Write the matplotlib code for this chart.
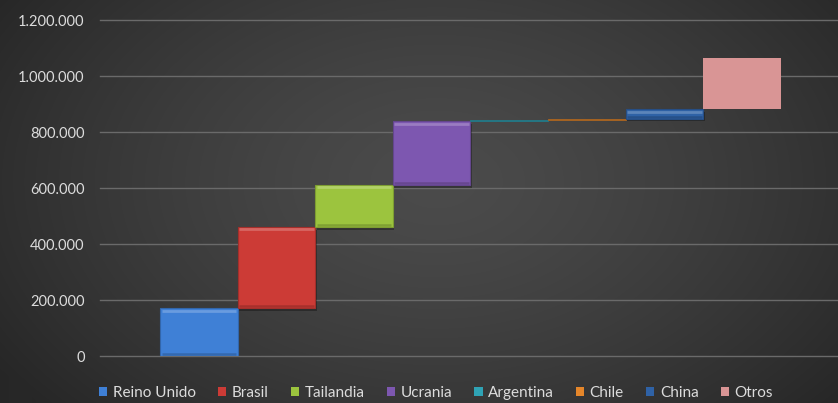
import numpy as np
import matplotlib
matplotlib.use("Agg")
import matplotlib.pyplot as plt
from matplotlib.patches import Patch
from matplotlib.ticker import FuncFormatter
import matplotlib.transforms as mtransforms
from matplotlib.colors import to_rgb

# ---------------- data ----------------
countries = ["Reino Unido", "Brasil", "Tailandia", "Ucrania", "Argentina", "Chile", "China", "Otros"]
values = [170000, 290000, 150000, 228000, 5000, 5000, 33000, 182000]
colors = ["#3f80d6", "#cc3b36", "#9cc43e", "#7d57b0", "#2fa3b5", "#e5862a", "#2f62a6", "#d99595"]
bevel = [True, True, True, True, False, False, True, False]
yticks = [0, 200000, 400000, 600000, 800000, 1000000, 1200000]

plt.rcParams['font.family'] = ['Lato', 'DejaVu Sans']

W, H = 838, 403
fig = plt.figure(figsize=(W / 100, H / 100), dpi=100)

# background radial gradient
bg = fig.add_axes([0, 0, 1, 1])
bg.axis('off')
yy, xx = np.mgrid[0:H, 0:W]
cx, cy = 0.52 * W, 0.45 * H
r = np.sqrt(((xx - cx) / (0.62 * W)) ** 2 + ((yy - cy) / (0.85 * H)) ** 2)
r = np.clip(r, 0, 1)
c0, c1 = 0x4b / 255, 0x27 / 255
g = c0 + (c1 - c0) * r ** 1.4
img = np.dstack([g, g, g])
bg.imshow(img, aspect='auto', extent=[0, 1, 0, 1], zorder=0)
bg.set_xlim(0, 1)
bg.set_ylim(0, 1)

ax = fig.add_axes([100 / W, 47 / H, 738 / W, 336 / H])
ax.set_facecolor('none')
ax.set_zorder(2)

px_per_unit = 77.6
x0 = -60 / px_per_unit
ax.set_xlim(x0, x0 + 738 / px_per_unit)
ax.set_ylim(0, 1200000)

bottoms = np.concatenate([[0], np.cumsum(values)[:-1]])
xs = np.arange(len(countries))

def lighten(c, f):
    r_, g_, b_ = to_rgb(c)
    return (r_ + (1 - r_) * f, g_ + (1 - g_) * f, b_ + (1 - b_) * f)

def darken(c, f):
    r_, g_, b_ = to_rgb(c)
    return (r_ * (1 - f), g_ * (1 - f), b_ * (1 - f))

for i, (x, b, v, c, bv) in enumerate(zip(xs, bottoms, values, colors, bevel)):
    if bv:
        sh = mtransforms.offset_copy(ax.transData, fig=fig, x=1.5, y=-2.5, units='dots')
        ax.bar(x, v, bottom=b, width=1, align='edge', color=(0, 0, 0, 0.3),
               transform=sh, zorder=2, linewidth=0)
        ax.bar(x, v, bottom=b, width=1, align='edge', color=c,
               edgecolor=darken(c, 0.2), linewidth=0.8, zorder=3)
        tr_top = mtransforms.offset_copy(ax.transData, fig=fig, x=0, y=-2.2, units='dots')
        ax.plot([x + 0.02, x + 0.98], [b + v, b + v], color=lighten(c, 0.22),
                lw=2.0, transform=tr_top, zorder=4, solid_capstyle='butt')
        tr_bot = mtransforms.offset_copy(ax.transData, fig=fig, x=0, y=2.0, units='dots')
        ax.plot([x + 0.02, x + 0.98], [b, b], color=darken(c, 0.18),
                lw=1.8, transform=tr_bot, zorder=4, solid_capstyle='butt')
    elif v < 20000:
        ax.bar(x, v, bottom=b, width=1, align='edge', color=darken(c, 0.25),
               edgecolor=darken(c, 0.25), linewidth=0.6, zorder=3)
    else:
        ax.bar(x, v, bottom=b, width=1, align='edge', color=c,
               linewidth=0, zorder=3)

ax.set_yticks(yticks)
ax.yaxis.set_major_formatter(FuncFormatter(lambda v, p: f"{int(v):,}".replace(",", ".")))
ax.tick_params(axis='y', length=0, pad=11, labelsize=10.5, labelcolor='#dcdcdc')
ax.set_xticks([])
ax.yaxis.grid(True, color='#6a6a6a', linewidth=1.0)
ax.set_axisbelow(True)
for gl in ax.get_ygridlines():
    gl.set_clip_on(False)
for s in ax.spines.values():
    s.set_visible(False)

handles = [Patch(facecolor=c, edgecolor='none') for c in colors]
leg = fig.legend(handles, countries, loc='center', bbox_to_anchor=(436 / W, 1 - 393 / H),
                 ncol=len(countries), frameon=False, fontsize=11,
                 handlelength=0.55, handleheight=0.55, handletextpad=0.35,
                 columnspacing=1.45, labelcolor='#dcdcdc')

fig.savefig("out.png", dpi=100)
